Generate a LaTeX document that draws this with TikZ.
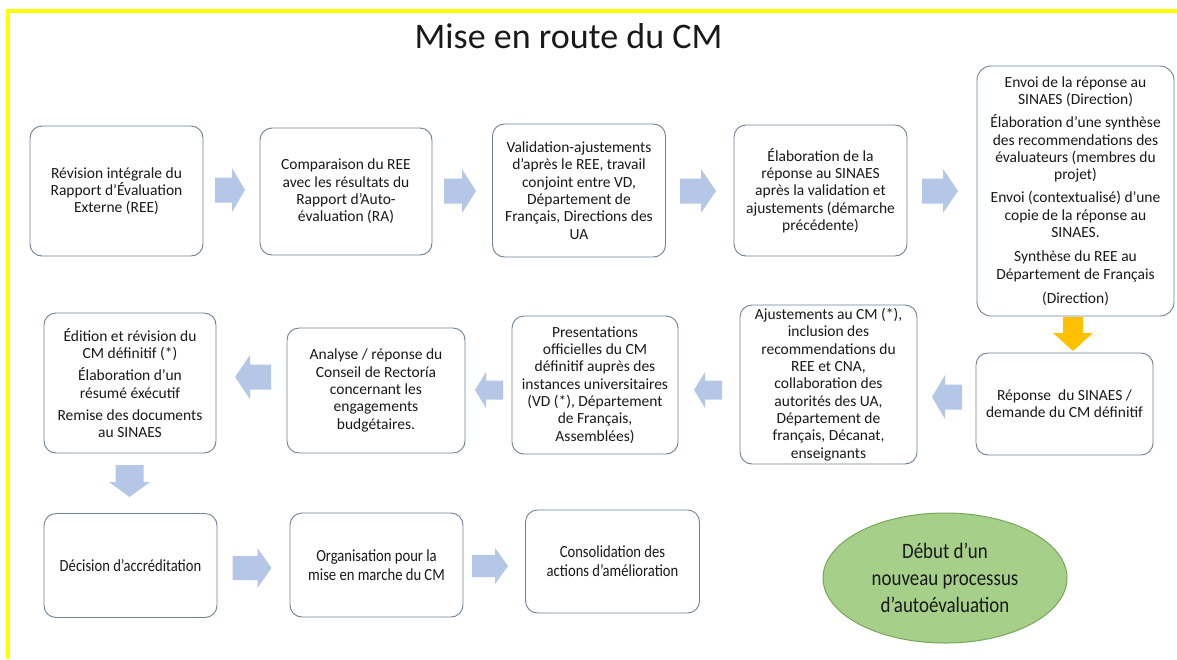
\documentclass[tikz,border=0pt]{standalone}
\usepackage{fontspec}
\setmainfont{Carlito}
\newfontfamily\narrowfont[FakeStretch=0.86]{Carlito}
\usetikzlibrary{shapes.geometric}
\definecolor{arrowblue}{RGB}{180,199,231}
\definecolor{boxline}{RGB}{110,128,148}
\definecolor{goldarrow}{RGB}{255,192,0}
\definecolor{ellfill}{RGB}{166,207,138}
\definecolor{elldraw}{RGB}{120,166,90}
\definecolor{frameyellow}{RGB}{255,255,0}
% #1 colour, #2 name, #3 centre, #4 rotation, #5 length, #6 head width, #7 shaft width, #8 head length
\newcommand\blockarr[8]{%
  \coordinate (#2) at (#3);
  \begin{scope}[shift={(#2)}, rotate=#4]
    \fill[#1] ({-#5/2},{-#7/2}) -- ({#5/2-#8},{-#7/2}) -- ({#5/2-#8},{-#6/2})
      -- ({#5/2},0) -- ({#5/2-#8},{#6/2}) -- ({#5/2-#8},{#7/2}) -- ({-#5/2},{#7/2}) -- cycle;
  \end{scope}}
\begin{document}
\begin{tikzpicture}[x=1pt,y=-1pt,
  stepbox/.style={draw=boxline, line width=0.9pt, rounded corners=12pt, fill=white,
    align=center, inner sep=0pt, text=black!90,
    font=\fontsize{15.5}{17.3}\selectfont},
  narrowbox/.style={stepbox, font=\narrowfont\fontsize{17}{19}\selectfont},
]
\useasboundingbox (0,0) rectangle (1177,659);
\fill[white] (0,0) rectangle (1177,659);
\draw[frameyellow, line width=3.5pt] (8,659) -- (8,11) -- (1177,11);

\node[font=\fontsize{36}{40}\selectfont, anchor=base, text=black!90] (title) at (568.5,48) {Mise en route du CM};

% Row 1
\node[stepbox, minimum width=173, minimum height=130] (b1) at (116.5,191)
  {Révision intégrale du\\Rapport d’Évaluation\\Externe (REE)};
\node[stepbox, minimum width=172, minimum height=127] (b2) at (346,191.5)
  {Comparaison du REE\\avec les résultats du\\Rapport d’Auto-\\évaluation (RA)};
\node[stepbox, minimum width=173, minimum height=133] (b3) at (579,190.5)
  {Validation-ajustements\\d’après le REE, travail\\conjoint entre VD,\\Département de\\Français, Directions des\\UA};
\node[stepbox, minimum width=173, minimum height=131] (b4) at (820.5,190.5)
  {Élaboration de la\\réponse au SINAES\\après la validation et\\ajustements (démarche\\précédente)};
\node[stepbox, minimum width=197, minimum height=250, rounded corners=14pt] (b5) at (1075.5,191)
  {Envoi de la réponse au\\SINAES (Direction)\\[6pt]
   Élaboration d’une synthèse\\des recommendations des\\évaluateurs (membres du\\projet)\\[6pt]
   Envoi (contextualisé) d’une\\copie de la réponse au\\SINAES.\\[7pt]
   Synthèse du REE au\\Département de Français\\[7pt]
   (Direction)};

\blockarr{arrowblue}{a1}{230,190}{0}{30}{44}{25}{13}
\blockarr{arrowblue}{a2}{460,191}{0}{32}{44}{25}{14}
\blockarr{arrowblue}{a3}{698,191}{0}{36}{44}{25}{15}
\blockarr{arrowblue}{a4}{940,191}{0}{36}{44}{25}{15}

% Row 2
\node[stepbox, minimum width=177, minimum height=102] (b10) at (1064.5,404)
  {Réponse \ du SINAES /\\demande du CM définitif};
\node[stepbox, minimum width=177, minimum height=159] (b9) at (828.5,384.5)
  {Ajustements au CM (*),\\inclusion des\\recommendations du\\REE et CNA,\\collaboration des\\autorités des UA,\\Département de\\français, Décanat,\\enseignants};
\node[stepbox, minimum width=166, minimum height=138] (b8) at (595,385)
  {Presentations\\officielles du CM\\définitif auprès des\\instances universitaires\\(VD (*), Département\\de Français,\\Assemblées)};
\node[stepbox, minimum width=178, minimum height=125] (b7) at (376,390.5)
  {Analyse / réponse du\\Conseil de Rectoría\\concernant les\\engagements\\budgétaires.};
\node[stepbox, minimum width=172, minimum height=140] (b6) at (130,383)
  {Édition et révision du\\CM définitif (*)\\[5pt]
   Élaboration d’un\\résumé éxécutif\\[5pt]
   Remise des documents\\au SINAES};

\blockarr{goldarrow}{ay}{1073,334}{-90}{34}{40}{20}{18}
\blockarr{arrowblue}{a5}{947,397}{180}{30}{44}{25}{13}
\blockarr{arrowblue}{a6}{708,390}{180}{28}{36}{19}{11}
\blockarr{arrowblue}{a7}{489,390}{180}{28}{36}{19}{11}
\blockarr{arrowblue}{a8}{253,377}{180}{36}{44}{25}{15}

% Row 3
\blockarr{arrowblue}{a9}{129.5,481}{-90}{32}{41}{28}{15}
\node[narrowbox, minimum width=173, minimum height=104] (b11) at (130.5,565.5)
  {Décision d’accréditation};
\node[narrowbox, minimum width=173, minimum height=104] (b12) at (376.5,565)
  {Organisation pour la\\mise en marche du CM};
\node[narrowbox, minimum width=174, minimum height=103] (b13) at (612.5,561.5)
  {Consolidation des\\actions d’amélioration};
\blockarr{arrowblue}{a10}{252,568}{0}{39}{40}{24}{14}
\blockarr{arrowblue}{a11}{490,566}{0}{36}{36}{22}{13}

\node[ellipse, minimum width=244, minimum height=130, fill=ellfill, draw=elldraw,
  line width=1pt, align=center, inner sep=0pt, text=black!90,
  font=\narrowfont\fontsize{22}{27}\selectfont] (ell) at (945,578)
  {Début d’un\\nouveau processus\\d’autoévaluation};
\end{tikzpicture}
\end{document}
